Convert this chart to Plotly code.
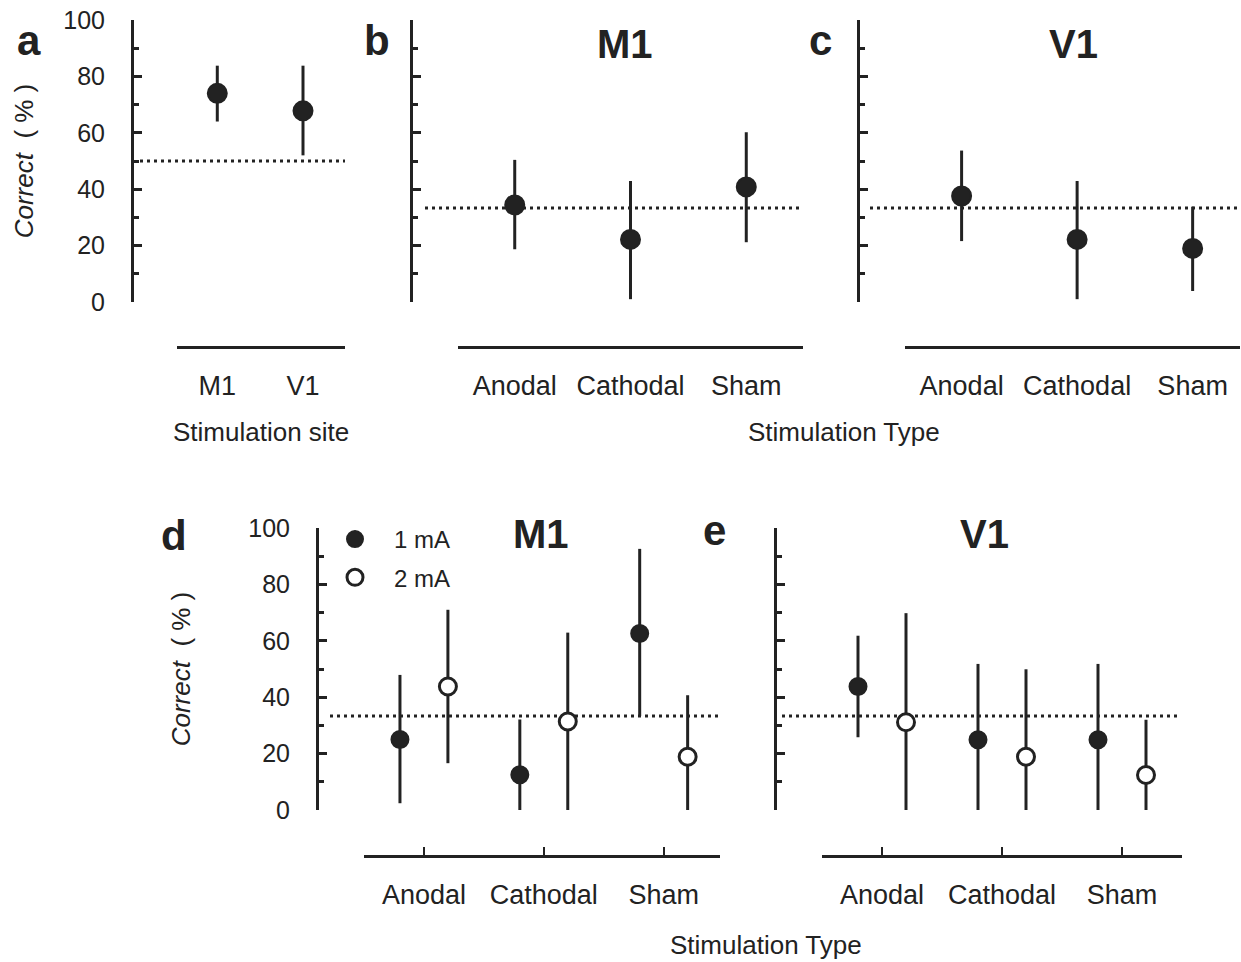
import plotly.graph_objects as go

# ---------------- data ----------------
site_cats = ["M1", "V1"]
site_mean = [74.0, 67.8]
site_lo = [64.0, 52.0]
site_hi = [83.8, 83.8]

type_cats = ["Anodal", "Cathodal", "Sham"]
m1_mean = [34.4, 22.2, 40.8]
m1_lo = [18.7, 1.0, 21.2]
m1_hi = [50.4, 42.9, 60.2]

v1_mean = [37.6, 22.2, 19.0]
v1_lo = [21.6, 1.0, 3.9]
v1_hi = [53.7, 42.9, 33.8]

dose_names = ["1 mA", "2 mA"]
m1_1ma_mean = [25.0, 12.5, 62.6]
m1_1ma_lo = [2.4, 0.0, 33.3]
m1_1ma_hi = [47.9, 32.1, 92.6]
m1_2ma_mean = [43.8, 31.4, 18.9]
m1_2ma_lo = [16.6, 0.0, 0.0]
m1_2ma_hi = [71.0, 62.9, 40.7]

v1_1ma_mean = [43.8, 24.9, 24.9]
v1_1ma_lo = [25.8, 0.0, 0.0]
v1_1ma_hi = [61.8, 51.8, 51.8]
v1_2ma_mean = [31.1, 18.9, 12.4]
v1_2ma_lo = [0.0, 0.0, 0.0]
v1_2ma_hi = [69.8, 49.9, 32.0]

chance_site = 50.0
chance_type = 100.0 / 3.0

y_ticks = [0, 20, 40, 60, 80, 100]

# ---------------- style ----------------
W, H = 1241, 962
INK = "#222222"
FONT = "Liberation Sans, Arial, Helvetica, sans-serif"
DOSE_OFFSET = 0.2


def px(x):
    return x / W


def py(y):
    return 1 - y / H


def err(mean, lo, hi):
    return dict(type="data", symmetric=False,
                array=[h - m for h, m in zip(hi, mean)],
                arrayminus=[m - l for m, l in zip(mean, lo)],
                color=INK, thickness=3, width=0)


fig = go.Figure()


def add_points(xref, yref, xs, mean, lo, hi, filled, size, name=None, legend=False):
    fig.add_trace(go.Scatter(
        x=xs, y=mean, mode="markers", xaxis=xref, yaxis=yref,
        name=name, showlegend=legend, cliponaxis=False,
        legendgroup=name, error_y=err(mean, lo, hi),
        marker=dict(size=size, color=INK if filled else "white",
                    line=dict(color=INK, width=2 if filled else 3), symbol="circle"),
    ))


idx2 = list(range(len(site_cats)))
idx3 = list(range(len(type_cats)))

# panel a
add_points("x", "y", idx2, site_mean, site_lo, site_hi, True, 19)
# panel b
add_points("x2", "y2", idx3, m1_mean, m1_lo, m1_hi, True, 19)
# panel c
add_points("x3", "y3", idx3, v1_mean, v1_lo, v1_hi, True, 19)
# panel d
add_points("x4", "y4", [i - DOSE_OFFSET for i in idx3], m1_1ma_mean, m1_1ma_lo, m1_1ma_hi,
           True, 17, dose_names[0], True)
add_points("x4", "y4", [i + DOSE_OFFSET for i in idx3], m1_2ma_mean, m1_2ma_lo, m1_2ma_hi,
           False, 17, dose_names[1], True)
# panel e
add_points("x5", "y5", [i - DOSE_OFFSET for i in idx3], v1_1ma_mean, v1_1ma_lo, v1_1ma_hi,
           True, 17)
add_points("x5", "y5", [i + DOSE_OFFSET for i in idx3], v1_2ma_mean, v1_2ma_lo, v1_2ma_hi,
           False, 17)

ytickfont = dict(family=FONT, size=25, color=INK)
xtickfont = dict(family=FONT, size=27, color=INK)
TOP = [py(302), py(20)]
BOT = [py(810), py(528)]


def yaxis(domain, pos, labels, title=None, standoff=14):
    d = dict(domain=domain, range=[0, 100], anchor="free", position=pos, automargin=False,
             showline=True, linewidth=3, linecolor=INK, showgrid=False, zeroline=False,
             tickvals=y_ticks, ticks="inside", ticklen=8, tickwidth=3, tickcolor=INK,
             minor=dict(ticks="inside", ticklen=5, tickwidth=3, dtick=10, tickcolor=INK,
                        showgrid=False),
             showticklabels=labels, tickfont=ytickfont, ticklabelstandoff=21)
    if title:
        d["title"] = dict(text=title, font=dict(family=FONT, size=26, color=INK), standoff=standoff)
    return d


def xaxis(domain, pos, cats, rng, ticks):
    return dict(domain=domain, range=rng, anchor="free", position=pos, automargin=False,
                showline=True, linewidth=3, linecolor=INK, showgrid=False, zeroline=False,
                tickvals=list(range(len(cats))), ticktext=cats,
                ticks="inside" if ticks else "", ticklen=8, tickwidth=2, tickcolor=INK,
                tickfont=xtickfont, ticklabelstandoff=14)


ytitle = "<i>Correct</i>&nbsp; ( % )"
fig.update_layout(
    width=W, height=H, margin=dict(l=0, r=0, t=0, b=0, pad=0, autoexpand=False),
    paper_bgcolor="white", plot_bgcolor="rgba(0,0,0,0)",
    font=dict(family=FONT, color=INK),
    xaxis=xaxis([px(177), px(345)], py(347), site_cats, [-0.47, 1.49], False),
    yaxis=yaxis(TOP, px(132), True, ytitle, 21),
    xaxis2=xaxis([px(458), px(803)], py(347), type_cats, [-0.49, 2.49], False),
    yaxis2=yaxis(TOP, px(411), False),
    xaxis3=xaxis([px(905), px(1240)], py(347), type_cats, [-0.49, 2.41], False),
    yaxis3=yaxis(TOP, px(858), False),
    xaxis4=xaxis([px(364), px(720)], py(856), type_cats, [-0.5, 2.47], True),
    yaxis4=yaxis(BOT, px(317), True, ytitle, 49),
    xaxis5=xaxis([px(822), px(1182)], py(856), type_cats, [-0.5, 2.5], True),
    yaxis5=yaxis(BOT, px(775), False),
    legend=dict(x=px(316), y=py(517), xanchor="left", yanchor="top",
                font=dict(family=FONT, size=24, color=INK), bgcolor="rgba(0,0,0,0)",
                itemsizing="trace", tracegroupgap=4, itemwidth=68),
)

# chance-level dotted lines
dots = [("y", chance_site, 140, 345), ("y2", chance_type, 425, 800),
        ("y3", chance_type, 870, 1240), ("y4", chance_type, 330, 720),
        ("y5", chance_type, 782, 1178)]
for yref, val, x0, x1 in dots:
    fig.add_shape(type="line", xref="paper", yref=yref, x0=px(x0), x1=px(x1), y0=val, y1=val,
                  line=dict(color=INK, width=3, dash="3px,4px"), layer="below")


def label(txt, x, y, size, bold=False):
    fig.add_annotation(text=f"<b>{txt}</b>" if bold else txt, x=px(x), y=py(y),
                       xref="paper", yref="paper", xanchor="center", yanchor="middle",
                       showarrow=False, font=dict(family=FONT, size=size, color=INK))


# panel letters
for txt, x, y in [("a", 29, 40), ("b", 377, 41), ("c", 820, 41), ("d", 174, 535), ("e", 714, 530)]:
    label(txt, x, y, 42, True)
# panel titles
for txt, x, y in [("M1", 625, 44), ("V1", 1073, 44), ("M1", 541, 534), ("V1", 985, 534)]:
    label(txt, x, y, 40, True)
# axis titles
for txt, x, y in [("Stimulation site", 261, 432), ("Stimulation Type", 844, 432),
                  ("Stimulation Type", 766, 945)]:
    label(txt, x, y, 26)

fig.write_html("out.html")
